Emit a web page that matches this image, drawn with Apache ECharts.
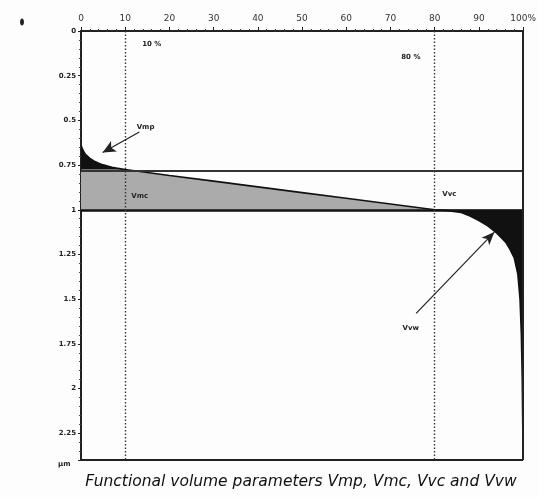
<!DOCTYPE html>
<html>
<head>
<meta charset="utf-8">
<script src="https://cdn.jsdelivr.net/npm/echarts@6/dist/echarts.min.js"></script>
<style>
  html, body { margin: 0; padding: 0; background: #fdfdfd; }
  #chart { width: 539px; height: 497px; }
</style>
</head>
<body>
<div id="chart"></div>
<script>
// Bearing-area (Abbott-Firestone) curve: material ratio (%) vs depth (µm)
const ratioPct = [0, 0.5, 1, 2, 3, 4, 5, 6, 7, 8, 10, 20, 30, 40, 50, 60, 70, 80,
  83, 86, 88, 90, 92, 94, 96, 97, 98, 98.8, 99.3, 99.6, 99.8, 100];
const depthUm = [0.64, 0.67, 0.69, 0.713, 0.728, 0.74, 0.749, 0.756, 0.762, 0.767, 0.775,
  0.808, 0.84, 0.872, 0.904, 0.936, 0.968, 1.0,
  1.005, 1.015, 1.035, 1.06, 1.09, 1.13, 1.18, 1.22, 1.27, 1.36, 1.5, 1.7, 1.95, 2.4];

// Material-ratio thresholds and the corresponding depths
const mr1 = 10, mr2 = 80;
const depthMr1 = 0.775, depthMr2 = 1.0;

// Axis tick labels
const xTicks = [0, 10, 20, 30, 40, 50, 60, 70, 80, 90, 100];
const yTicks = [0, 0.25, 0.5, 0.75, 1, 1.25, 1.5, 1.75, 2, 2.25];
const yTickLabels = ['0', '0.25', '0.5', '0.75', '1', '1.25', '1.5', '1.75', '2', '2.25'];

const curve = ratioPct.map((x, i) => [x, depthUm[i]]);
const peakPart = curve.filter(p => p[0] <= mr1);
const corePart = curve.filter(p => p[0] <= mr2).map(p => [p[0], Math.max(p[1], depthMr1)]);
const valleyPart = curve.filter(p => p[0] >= mr2);

const chart = echarts.init(document.getElementById('chart'), null, { renderer: 'canvas' });

const smallBold = { fontFamily: 'DejaVu Sans', fontSize: 7, fontWeight: 'bold', color: '#222' };

chart.setOption({
  backgroundColor: '#fdfdfd',
  animation: false,
  grid: { left: 81, right: 14, top: 31, bottom: 37, show: false },
  xAxis: {
    type: 'value', position: 'top', min: 0, max: 100, interval: 10,
    axisLine: { show: true, lineStyle: { color: '#222', width: 2 } },
    axisTick: { show: true, length: 4, inside: false, lineStyle: { color: '#222', width: 1 } },
    minorTick: { show: true, splitNumber: 5, length: 2, lineStyle: { color: '#333' } },
    splitLine: { show: false },
    axisLabel: {
      margin: 8, fontFamily: 'DejaVu Sans', fontSize: 9, color: '#333',
      formatter: v => (v === 100 ? '100%' : String(v))
    }
  },
  yAxis: {
    type: 'value', inverse: true, min: 0, max: 2.4, interval: 0.25,
    axisLine: { show: true, lineStyle: { color: '#222', width: 2 } },
    axisTick: { show: true, length: 3, lineStyle: { color: '#222' } },
    minorTick: { show: true, splitNumber: 5, length: 2, lineStyle: { color: '#444' } },
    splitLine: { show: false },
    axisLabel: {
      margin: 5, fontFamily: 'DejaVu Sans', fontSize: 7, fontWeight: 'bold', color: '#222',
      showMaxLabel: false,
      formatter: v => {
        const i = yTicks.findIndex(t => Math.abs(t - v) < 1e-6);
        return i >= 0 ? yTickLabels[i] : '';
      }
    }
  },
  series: [
    {
      // Vmc: core material volume
      name: 'Vmc', type: 'line', data: corePart, symbol: 'none', silent: true,
      lineStyle: { width: 0 },
      areaStyle: { color: '#ababab', opacity: 1, origin: depthMr2 },
      z: 1
    },
    {
      // Vmp: peak material volume
      name: 'Vmp', type: 'line', data: peakPart, symbol: 'none', silent: true,
      lineStyle: { width: 0 },
      areaStyle: { color: '#111', opacity: 1, origin: depthMr1 },
      z: 2
    },
    {
      // Vvw: dale void volume
      name: 'Vvw', type: 'line', data: valleyPart, symbol: 'none', silent: true,
      lineStyle: { width: 0 },
      areaStyle: { color: '#111', opacity: 1, origin: depthMr2 },
      z: 2
    },
    {
      // Bearing curve with the threshold lines and annotations
      name: 'curve', type: 'line', data: curve, symbol: 'none', silent: true,
      lineStyle: { color: '#111', width: 1.6 },
      z: 3,
      markLine: {
        silent: true, symbol: 'none', animation: false,
        label: { show: false },
        data: [
          { yAxis: depthMr1, lineStyle: { color: '#333', width: 2.2, type: 'solid' } },
          { yAxis: depthMr2, lineStyle: { color: '#111', width: 2.6, type: 'solid' } },
          { yAxis: 2.4, lineStyle: { color: '#222', width: 2, type: 'solid' } },
          { xAxis: 100, lineStyle: { color: '#222', width: 2, type: 'solid' } },
          { xAxis: mr1, lineStyle: { color: '#333', width: 1.4, type: [1.5, 2] } },
          { xAxis: mr2, lineStyle: { color: '#333', width: 1.4, type: [1.5, 2] } },
          [
            { coord: [13.2, 0.565], symbol: 'none' },
            { coord: [4.9, 0.68], symbol: 'arrow', symbolSize: [9, 13],
              lineStyle: { color: '#222', width: 1.2, type: 'solid' } }
          ],
          [
            { coord: [75.8, 1.58], symbol: 'none' },
            { coord: [93.5, 1.125], symbol: 'arrow', symbolSize: [8, 13],
              lineStyle: { color: '#222', width: 1.2, type: 'solid' } }
          ]
        ]
      },
      markPoint: {
        silent: true, symbol: 'circle', symbolSize: 0,
        label: Object.assign({ show: true, position: 'inside' }, smallBold),
        data: [
          { coord: [14.6, 0.54], label: { formatter: 'Vmp' } },
          { coord: [13.3, 0.925], label: { formatter: 'Vmc' } },
          { coord: [83.3, 0.915], label: { formatter: 'Vvc' } },
          { coord: [74.6, 1.665], label: { formatter: 'Vvw' } },
          { coord: [16.0, 0.072], label: { formatter: '10 %' } },
          { coord: [74.6, 0.146], label: { formatter: '80 %' } }
        ]
      }
    }
  ],
  graphic: [
    { type: 'ellipse', shape: { cx: 22, cy: 22, rx: 2, ry: 3.5 }, style: { fill: '#222' } },
    {
      type: 'text', left: 58, top: 461,
      style: { text: 'µm', font: 'bold 7px "DejaVu Sans"', fill: '#222' }
    },
    {
      type: 'text', x: 301, y: 482,
      style: {
        text: 'Functional volume parameters Vmp, Vmc, Vvc and Vvw',
        font: 'italic 15.5px "DejaVu Sans"', fill: '#111',
        align: 'center', verticalAlign: 'middle'
      }
    }
  ]
});
</script>
</body>
</html>
